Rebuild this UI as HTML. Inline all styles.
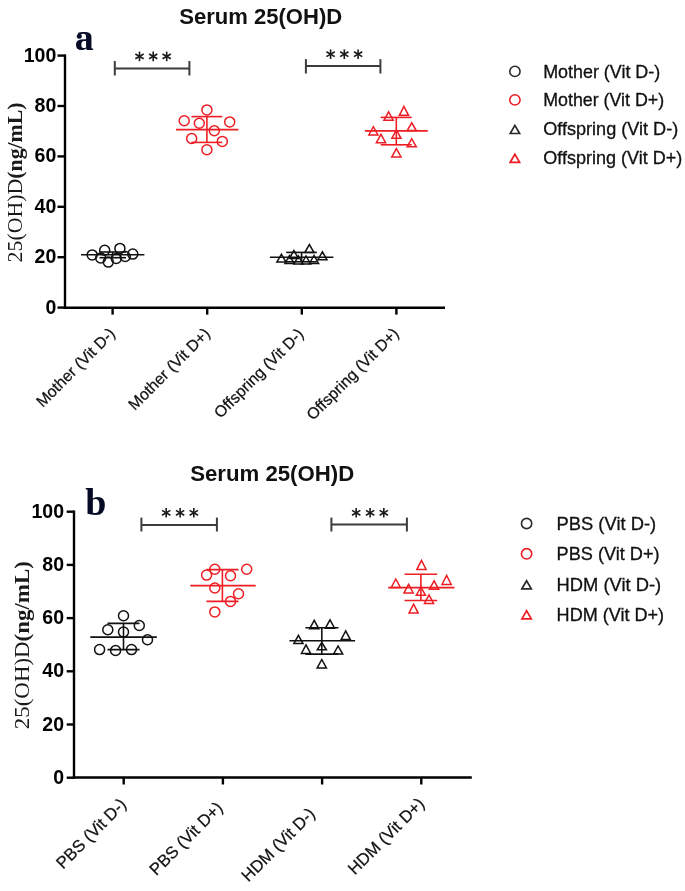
<!DOCTYPE html>
<html><head><meta charset="utf-8"><title>Serum 25(OH)D</title>
<style>
html,body{margin:0;padding:0;background:#fff;}
body{width:685px;height:891px;overflow:hidden;font-family:"Liberation Sans", sans-serif;}
svg{display:block;will-change:transform;}
</style></head>
<body>
<svg width="685" height="891" viewBox="0 0 685 891">
<rect width="685" height="891" fill="#fff"/>
<g stroke="#000" stroke-width="2.4" fill="none"><line x1="65" y1="54.40000000000002" x2="65" y2="308.9"/><line x1="63.8" y1="307.7" x2="445" y2="307.7"/><line x1="57.5" y1="307.6" x2="65" y2="307.6"/><line x1="57.5" y1="257.20000000000005" x2="65" y2="257.20000000000005"/><line x1="57.5" y1="206.8" x2="65" y2="206.8"/><line x1="57.5" y1="156.40000000000003" x2="65" y2="156.40000000000003"/><line x1="57.5" y1="106.00000000000003" x2="65" y2="106.00000000000003"/><line x1="57.5" y1="55.60000000000002" x2="65" y2="55.60000000000002"/><line x1="112.6" y1="307.7" x2="112.6" y2="314.6"/><line x1="207.2" y1="307.7" x2="207.2" y2="314.6"/><line x1="301.8" y1="307.7" x2="301.8" y2="314.6"/><line x1="396.4" y1="307.7" x2="396.4" y2="314.6"/></g><text x="56.3" y="313.6" text-anchor="end" font-family='"Liberation Sans", sans-serif' font-weight="bold" font-size="19.5">0</text><text x="56.3" y="263.2" text-anchor="end" font-family='"Liberation Sans", sans-serif' font-weight="bold" font-size="19.5">20</text><text x="56.3" y="212.8" text-anchor="end" font-family='"Liberation Sans", sans-serif' font-weight="bold" font-size="19.5">40</text><text x="56.3" y="162.4" text-anchor="end" font-family='"Liberation Sans", sans-serif' font-weight="bold" font-size="19.5">60</text><text x="56.3" y="112.0" text-anchor="end" font-family='"Liberation Sans", sans-serif' font-weight="bold" font-size="19.5">80</text><text x="56.3" y="61.6" text-anchor="end" font-family='"Liberation Sans", sans-serif' font-weight="bold" font-size="19.5">100</text>
<text transform="translate(22,182.4) rotate(-90)" text-anchor="middle" font-family='"Liberation Serif", serif' font-size="20" fill="#1a1a1a" textLength="160" lengthAdjust="spacingAndGlyphs">25(OH)D<tspan font-weight="bold">(ng/mL)</tspan></text>
<text x="179.2" y="24.0" font-family='"Liberation Sans", sans-serif' font-weight="bold" font-size="22" textLength="163" lengthAdjust="spacingAndGlyphs" fill="#111">Serum 25(OH)D</text>
<text x="74.7" y="49.8" font-family='"Liberation Serif", serif' font-weight="bold" font-size="38" fill="#050a25">a</text>
<circle cx="79.3" cy="36.3" r="2.5" fill="#050a25"/>
<g stroke="#3c3c3c" stroke-width="2" fill="none"><line x1="114.8" y1="68.4" x2="189.4" y2="68.4"/><line x1="114.8" y1="61" x2="114.8" y2="75.5"/><line x1="189.4" y1="61" x2="189.4" y2="75.5"/></g><g stroke="#1a1a1a" stroke-width="1.6" stroke-linecap="butt"><line x1="139.50" y1="51.60" x2="139.50" y2="61.20"/><line x1="135.34" y1="54.00" x2="143.66" y2="58.80"/><line x1="143.66" y1="54.00" x2="135.34" y2="58.80"/></g><g stroke="#1a1a1a" stroke-width="1.6" stroke-linecap="butt"><line x1="153.20" y1="51.60" x2="153.20" y2="61.20"/><line x1="149.04" y1="54.00" x2="157.36" y2="58.80"/><line x1="157.36" y1="54.00" x2="149.04" y2="58.80"/></g><g stroke="#1a1a1a" stroke-width="1.6" stroke-linecap="butt"><line x1="166.70" y1="51.60" x2="166.70" y2="61.20"/><line x1="162.54" y1="54.00" x2="170.86" y2="58.80"/><line x1="170.86" y1="54.00" x2="162.54" y2="58.80"/></g>
<g stroke="#3c3c3c" stroke-width="2" fill="none"><line x1="305.9" y1="66" x2="380.4" y2="66"/><line x1="305.9" y1="59.1" x2="305.9" y2="73.5"/><line x1="380.4" y1="59.1" x2="380.4" y2="73.5"/></g><g stroke="#1a1a1a" stroke-width="1.6" stroke-linecap="butt"><line x1="330.60" y1="49.40" x2="330.60" y2="59.00"/><line x1="326.44" y1="51.80" x2="334.76" y2="56.60"/><line x1="334.76" y1="51.80" x2="326.44" y2="56.60"/></g><g stroke="#1a1a1a" stroke-width="1.6" stroke-linecap="butt"><line x1="344.30" y1="49.40" x2="344.30" y2="59.00"/><line x1="340.14" y1="51.80" x2="348.46" y2="56.60"/><line x1="348.46" y1="51.80" x2="340.14" y2="56.60"/></g><g stroke="#1a1a1a" stroke-width="1.6" stroke-linecap="butt"><line x1="358.10" y1="49.40" x2="358.10" y2="59.00"/><line x1="353.94" y1="51.80" x2="362.26" y2="56.60"/><line x1="362.26" y1="51.80" x2="353.94" y2="56.60"/></g>
<circle cx="92.2" cy="254.9" r="5.0" fill="none" stroke="#111" stroke-width="1.5"/>
<circle cx="104.7" cy="250.2" r="5.0" fill="none" stroke="#111" stroke-width="1.5"/>
<circle cx="119.9" cy="248.4" r="5.0" fill="none" stroke="#111" stroke-width="1.5"/>
<circle cx="132.8" cy="254.1" r="5.0" fill="none" stroke="#111" stroke-width="1.5"/>
<circle cx="100.7" cy="257.9" r="5.0" fill="none" stroke="#111" stroke-width="1.5"/>
<circle cx="108.3" cy="262.1" r="5.0" fill="none" stroke="#111" stroke-width="1.5"/>
<circle cx="116.3" cy="258.5" r="5.0" fill="none" stroke="#111" stroke-width="1.5"/>
<circle cx="125.2" cy="256.5" r="5.0" fill="none" stroke="#111" stroke-width="1.5"/>
<g stroke="#111" stroke-width="1.6" fill="none"><line x1="81" y1="254.8" x2="144.4" y2="254.8"/><line x1="112.6" y1="252.0" x2="112.6" y2="257.7"/><line x1="99.5" y1="252.0" x2="126" y2="252.0"/><line x1="99.5" y1="257.7" x2="126" y2="257.7"/></g>
<circle cx="206.9" cy="109.9" r="5.0" fill="none" stroke="#ee1d23" stroke-width="1.5"/>
<circle cx="184.2" cy="120.8" r="5.0" fill="none" stroke="#ee1d23" stroke-width="1.5"/>
<circle cx="199.3" cy="123.2" r="5.0" fill="none" stroke="#ee1d23" stroke-width="1.5"/>
<circle cx="229.7" cy="121.9" r="5.0" fill="none" stroke="#ee1d23" stroke-width="1.5"/>
<circle cx="214.3" cy="130.7" r="5.0" fill="none" stroke="#ee1d23" stroke-width="1.5"/>
<circle cx="191.7" cy="138.5" r="5.0" fill="none" stroke="#ee1d23" stroke-width="1.5"/>
<circle cx="222.3" cy="141.4" r="5.0" fill="none" stroke="#ee1d23" stroke-width="1.5"/>
<circle cx="206.9" cy="149.8" r="5.0" fill="none" stroke="#ee1d23" stroke-width="1.5"/>
<g stroke="#ee1d23" stroke-width="1.6" fill="none"><line x1="176" y1="129.6" x2="238.4" y2="129.6"/><line x1="206.9" y1="116.6" x2="206.9" y2="142.4"/><line x1="191.4" y1="116.6" x2="222.3" y2="116.6"/><line x1="191.4" y1="142.4" x2="222.3" y2="142.4"/></g>
<path d="M276.8 262.1 L281.4 254.3 L286.0 262.1 Z" fill="none" stroke="#111" stroke-width="1.5" stroke-linejoin="miter"/>
<path d="M289.3 258.5 L293.9 250.6 L298.5 258.5 Z" fill="none" stroke="#111" stroke-width="1.5" stroke-linejoin="miter"/>
<path d="M304.8 252.5 L309.4 244.6 L314.0 252.5 Z" fill="none" stroke="#111" stroke-width="1.5" stroke-linejoin="miter"/>
<path d="M317.8 259.8 L322.4 251.8 L327.0 259.8 Z" fill="none" stroke="#111" stroke-width="1.5" stroke-linejoin="miter"/>
<path d="M284.9 263.5 L289.5 255.5 L294.1 263.5 Z" fill="none" stroke="#111" stroke-width="1.5" stroke-linejoin="miter"/>
<path d="M293.9 264.0 L298.5 256.0 L303.1 264.0 Z" fill="none" stroke="#111" stroke-width="1.5" stroke-linejoin="miter"/>
<path d="M301.4 264.0 L306.0 256.0 L310.6 264.0 Z" fill="none" stroke="#111" stroke-width="1.5" stroke-linejoin="miter"/>
<path d="M309.4 263.5 L314.0 255.5 L318.6 263.5 Z" fill="none" stroke="#111" stroke-width="1.5" stroke-linejoin="miter"/>
<g stroke="#111" stroke-width="1.6" fill="none"><line x1="269.9" y1="257.2" x2="333.4" y2="257.2"/><line x1="301.6" y1="252.4" x2="301.6" y2="261.8"/><line x1="286.2" y1="252.4" x2="316.8" y2="252.4"/><line x1="286.2" y1="261.8" x2="316.8" y2="261.8"/></g>
<path d="M384.0 120.2 L388.6 111.9 L393.2 120.2 Z" fill="none" stroke="#ee1d23" stroke-width="1.5" stroke-linejoin="miter"/>
<path d="M399.3 115.3 L403.9 106.4 L408.5 115.3 Z" fill="none" stroke="#ee1d23" stroke-width="1.5" stroke-linejoin="miter"/>
<path d="M368.8 135.0 L373.4 126.7 L378.0 135.0 Z" fill="none" stroke="#ee1d23" stroke-width="1.5" stroke-linejoin="miter"/>
<path d="M407.1 130.6 L411.7 122.8 L416.3 130.6 Z" fill="none" stroke="#ee1d23" stroke-width="1.5" stroke-linejoin="miter"/>
<path d="M391.8 138.3 L396.4 130.0 L401.0 138.3 Z" fill="none" stroke="#ee1d23" stroke-width="1.5" stroke-linejoin="miter"/>
<path d="M376.4 142.7 L381.0 134.3 L385.6 142.7 Z" fill="none" stroke="#ee1d23" stroke-width="1.5" stroke-linejoin="miter"/>
<path d="M407.1 146.8 L411.7 138.7 L416.3 146.8 Z" fill="none" stroke="#ee1d23" stroke-width="1.5" stroke-linejoin="miter"/>
<path d="M391.8 156.9 L396.4 148.6 L401.0 156.9 Z" fill="none" stroke="#ee1d23" stroke-width="1.5" stroke-linejoin="miter"/>
<g stroke="#ee1d23" stroke-width="1.6" fill="none"><line x1="364.9" y1="130.9" x2="427.8" y2="130.9"/><line x1="396.3" y1="117.4" x2="396.3" y2="144.8"/><line x1="380.7" y1="117.4" x2="411.7" y2="117.4"/><line x1="380.7" y1="144.8" x2="411.7" y2="144.8"/></g>
<text transform="translate(116.1,334.6) rotate(-45)" text-anchor="end" font-family='"Liberation Sans", sans-serif' font-size="15.9" fill="#111" stroke="#111" stroke-width="0.25">Mother (Vit D-)</text>
<text transform="translate(211.1,334.6) rotate(-45)" text-anchor="end" font-family='"Liberation Sans", sans-serif' font-size="15.9" fill="#111" stroke="#111" stroke-width="0.25">Mother (Vit D+)</text>
<text transform="translate(304.5,335.1) rotate(-45)" text-anchor="end" font-family='"Liberation Sans", sans-serif' font-size="15.9" fill="#111" stroke="#111" stroke-width="0.25">Offspring (Vit D-)</text>
<text transform="translate(399.8,334.4) rotate(-45)" text-anchor="end" font-family='"Liberation Sans", sans-serif' font-size="15.9" fill="#111" stroke="#111" stroke-width="0.25">Offspring (Vit D+)</text>
<circle cx="514.9" cy="71.4" r="5.15" fill="none" stroke="#2a2a2a" stroke-width="1.6"/><text x="543.2" y="77.6" font-family='"Liberation Sans", sans-serif' font-size="17.6" fill="#111" stroke="#111" stroke-width="0.3" textLength="117" lengthAdjust="spacingAndGlyphs">Mother (Vit D-)</text><circle cx="514.9" cy="99.9" r="5.15" fill="none" stroke="#ee1d23" stroke-width="1.6"/><text x="543.2" y="106.1" font-family='"Liberation Sans", sans-serif' font-size="17.6" fill="#111" stroke="#111" stroke-width="0.3" textLength="121" lengthAdjust="spacingAndGlyphs">Mother (Vit D+)</text><path d="M510.2 133.5 L514.9 125.4 L519.6 133.5 Z" fill="none" stroke="#2a2a2a" stroke-width="1.7" stroke-linejoin="miter"/><text x="543.2" y="135.4" font-family='"Liberation Sans", sans-serif' font-size="17.6" fill="#111" stroke="#111" stroke-width="0.3" textLength="135" lengthAdjust="spacingAndGlyphs">Offspring (Vit D-)</text><path d="M510.2 162.3 L514.9 154.2 L519.6 162.3 Z" fill="none" stroke="#ee1d23" stroke-width="1.7" stroke-linejoin="miter"/><text x="543.2" y="164.2" font-family='"Liberation Sans", sans-serif' font-size="17.6" fill="#111" stroke="#111" stroke-width="0.3" textLength="139" lengthAdjust="spacingAndGlyphs">Offspring (Vit D+)</text>
<g stroke="#000" stroke-width="2.4" fill="none"><line x1="74" y1="510.50000000000006" x2="74" y2="778.7"/><line x1="72.8" y1="777.5" x2="471.8" y2="777.5"/><line x1="66.7" y1="777.7" x2="74" y2="777.7"/><line x1="66.7" y1="724.5" x2="74" y2="724.5"/><line x1="66.7" y1="671.3000000000001" x2="74" y2="671.3000000000001"/><line x1="66.7" y1="618.1" x2="74" y2="618.1"/><line x1="66.7" y1="564.9000000000001" x2="74" y2="564.9000000000001"/><line x1="66.7" y1="511.70000000000005" x2="74" y2="511.70000000000005"/><line x1="123.7" y1="777.5" x2="123.7" y2="784.5"/><line x1="222.9" y1="777.5" x2="222.9" y2="784.5"/><line x1="322.1" y1="777.5" x2="322.1" y2="784.5"/><line x1="421.3" y1="777.5" x2="421.3" y2="784.5"/></g><text x="64.0" y="783.7" text-anchor="end" font-family='"Liberation Sans", sans-serif' font-weight="bold" font-size="19.5">0</text><text x="64.0" y="730.5" text-anchor="end" font-family='"Liberation Sans", sans-serif' font-weight="bold" font-size="19.5">20</text><text x="64.0" y="677.3" text-anchor="end" font-family='"Liberation Sans", sans-serif' font-weight="bold" font-size="19.5">40</text><text x="64.0" y="624.1" text-anchor="end" font-family='"Liberation Sans", sans-serif' font-weight="bold" font-size="19.5">60</text><text x="64.0" y="570.9" text-anchor="end" font-family='"Liberation Sans", sans-serif' font-weight="bold" font-size="19.5">80</text><text x="64.0" y="517.7" text-anchor="end" font-family='"Liberation Sans", sans-serif' font-weight="bold" font-size="19.5">100</text>
<text transform="translate(29.3,645.2) rotate(-90)" text-anchor="middle" font-family='"Liberation Serif", serif' font-size="22" fill="#1a1a1a" textLength="168" lengthAdjust="spacingAndGlyphs">25(OH)D<tspan font-weight="bold">(ng/mL)</tspan></text>
<text x="190.2" y="480.5" font-family='"Liberation Sans", sans-serif' font-weight="bold" font-size="22" textLength="164" lengthAdjust="spacingAndGlyphs" fill="#111">Serum 25(OH)D</text>
<text x="85.3" y="515.0" font-family='"Liberation Serif", serif' font-weight="bold" font-size="38" fill="#050a25">b</text>
<g stroke="#3c3c3c" stroke-width="2" fill="none"><line x1="141.4" y1="524.9" x2="216.9" y2="524.9"/><line x1="141.4" y1="517.6" x2="141.4" y2="531.5"/><line x1="216.9" y1="517.6" x2="216.9" y2="531.5"/></g><g stroke="#1a1a1a" stroke-width="1.6" stroke-linecap="butt"><line x1="166.20" y1="508.00" x2="166.20" y2="517.60"/><line x1="162.04" y1="510.40" x2="170.36" y2="515.20"/><line x1="170.36" y1="510.40" x2="162.04" y2="515.20"/></g><g stroke="#1a1a1a" stroke-width="1.6" stroke-linecap="butt"><line x1="180.10" y1="508.00" x2="180.10" y2="517.60"/><line x1="175.94" y1="510.40" x2="184.26" y2="515.20"/><line x1="184.26" y1="510.40" x2="175.94" y2="515.20"/></g><g stroke="#1a1a1a" stroke-width="1.6" stroke-linecap="butt"><line x1="193.80" y1="508.00" x2="193.80" y2="517.60"/><line x1="189.64" y1="510.40" x2="197.96" y2="515.20"/><line x1="197.96" y1="510.40" x2="189.64" y2="515.20"/></g>
<g stroke="#3c3c3c" stroke-width="2" fill="none"><line x1="331.4" y1="524.6" x2="406.9" y2="524.6"/><line x1="331.4" y1="517.6" x2="331.4" y2="531.5"/><line x1="406.9" y1="517.6" x2="406.9" y2="531.5"/></g><g stroke="#1a1a1a" stroke-width="1.6" stroke-linecap="butt"><line x1="356.20" y1="508.00" x2="356.20" y2="517.60"/><line x1="352.04" y1="510.40" x2="360.36" y2="515.20"/><line x1="360.36" y1="510.40" x2="352.04" y2="515.20"/></g><g stroke="#1a1a1a" stroke-width="1.6" stroke-linecap="butt"><line x1="370.10" y1="508.00" x2="370.10" y2="517.60"/><line x1="365.94" y1="510.40" x2="374.26" y2="515.20"/><line x1="374.26" y1="510.40" x2="365.94" y2="515.20"/></g><g stroke="#1a1a1a" stroke-width="1.6" stroke-linecap="butt"><line x1="383.80" y1="508.00" x2="383.80" y2="517.60"/><line x1="379.64" y1="510.40" x2="387.96" y2="515.20"/><line x1="387.96" y1="510.40" x2="379.64" y2="515.20"/></g>
<circle cx="123.5" cy="615.8" r="5.0" fill="none" stroke="#111" stroke-width="1.5"/>
<circle cx="107.8" cy="629.8" r="5.0" fill="none" stroke="#111" stroke-width="1.5"/>
<circle cx="123.5" cy="632.1" r="5.0" fill="none" stroke="#111" stroke-width="1.5"/>
<circle cx="139.3" cy="625.5" r="5.0" fill="none" stroke="#111" stroke-width="1.5"/>
<circle cx="147.5" cy="639.7" r="5.0" fill="none" stroke="#111" stroke-width="1.5"/>
<circle cx="99.6" cy="649.6" r="5.0" fill="none" stroke="#111" stroke-width="1.5"/>
<circle cx="115.6" cy="650.5" r="5.0" fill="none" stroke="#111" stroke-width="1.5"/>
<circle cx="131.5" cy="649.6" r="5.0" fill="none" stroke="#111" stroke-width="1.5"/>
<g stroke="#111" stroke-width="1.6" fill="none"><line x1="90.3" y1="637.1" x2="156.8" y2="637.1"/><line x1="123.5" y1="623.4" x2="123.5" y2="649.6"/><line x1="107.5" y1="623.4" x2="139.5" y2="623.4"/><line x1="107.5" y1="649.6" x2="139.5" y2="649.6"/></g>
<circle cx="214.8" cy="569.3" r="5.0" fill="none" stroke="#ee1d23" stroke-width="1.5"/>
<circle cx="206.6" cy="575.1" r="5.0" fill="none" stroke="#ee1d23" stroke-width="1.5"/>
<circle cx="230.5" cy="575.7" r="5.0" fill="none" stroke="#ee1d23" stroke-width="1.5"/>
<circle cx="246.7" cy="569.3" r="5.0" fill="none" stroke="#ee1d23" stroke-width="1.5"/>
<circle cx="214.8" cy="588" r="5.0" fill="none" stroke="#ee1d23" stroke-width="1.5"/>
<circle cx="238.5" cy="593.8" r="5.0" fill="none" stroke="#ee1d23" stroke-width="1.5"/>
<circle cx="230.5" cy="601.4" r="5.0" fill="none" stroke="#ee1d23" stroke-width="1.5"/>
<circle cx="214.8" cy="611.9" r="5.0" fill="none" stroke="#ee1d23" stroke-width="1.5"/>
<g stroke="#ee1d23" stroke-width="1.6" fill="none"><line x1="190.3" y1="585.6" x2="255.7" y2="585.6"/><line x1="222.4" y1="569.6" x2="222.4" y2="601.4"/><line x1="206.5" y1="569.6" x2="238.5" y2="569.6"/><line x1="206.5" y1="601.4" x2="238.5" y2="601.4"/></g>
<path d="M309.6 628.8 L314.2 620.3 L318.8 628.8 Z" fill="none" stroke="#111" stroke-width="1.5" stroke-linejoin="miter"/>
<path d="M325.4 628.2 L330.0 619.8 L334.6 628.2 Z" fill="none" stroke="#111" stroke-width="1.5" stroke-linejoin="miter"/>
<path d="M293.8 643.6 L298.4 635.3 L303.0 643.6 Z" fill="none" stroke="#111" stroke-width="1.5" stroke-linejoin="miter"/>
<path d="M341.1 639.6 L345.7 630.9 L350.3 639.6 Z" fill="none" stroke="#111" stroke-width="1.5" stroke-linejoin="miter"/>
<path d="M301.4 653.5 L306.0 644.9 L310.6 653.5 Z" fill="none" stroke="#111" stroke-width="1.5" stroke-linejoin="miter"/>
<path d="M317.2 649.8 L321.8 642.5 L326.4 649.8 Z" fill="none" stroke="#111" stroke-width="1.5" stroke-linejoin="miter"/>
<path d="M333.5 654.1 L338.1 646.0 L342.7 654.1 Z" fill="none" stroke="#111" stroke-width="1.5" stroke-linejoin="miter"/>
<path d="M317.2 667.9 L321.8 659.5 L326.4 667.9 Z" fill="none" stroke="#111" stroke-width="1.5" stroke-linejoin="miter"/>
<g stroke="#111" stroke-width="1.6" fill="none"><line x1="289.4" y1="640.7" x2="355.1" y2="640.7"/><line x1="321.8" y1="627.8" x2="321.8" y2="654.1"/><line x1="305.4" y1="627.8" x2="338.5" y2="627.8"/><line x1="305.4" y1="654.1" x2="338.5" y2="654.1"/></g>
<path d="M416.9 569.4 L421.5 560.3 L426.1 569.4 Z" fill="none" stroke="#ee1d23" stroke-width="1.5" stroke-linejoin="miter"/>
<path d="M391.2 587.5 L395.8 579.0 L400.4 587.5 Z" fill="none" stroke="#ee1d23" stroke-width="1.5" stroke-linejoin="miter"/>
<path d="M442.0 584.5 L446.6 575.5 L451.2 584.5 Z" fill="none" stroke="#ee1d23" stroke-width="1.5" stroke-linejoin="miter"/>
<path d="M404.0 592.9 L408.6 584.3 L413.2 592.9 Z" fill="none" stroke="#ee1d23" stroke-width="1.5" stroke-linejoin="miter"/>
<path d="M429.5 589.2 L434.1 580.8 L438.7 589.2 Z" fill="none" stroke="#ee1d23" stroke-width="1.5" stroke-linejoin="miter"/>
<path d="M416.3 595.3 L420.9 587.0 L425.5 595.3 Z" fill="none" stroke="#ee1d23" stroke-width="1.5" stroke-linejoin="miter"/>
<path d="M424.4 603.5 L429.0 594.8 L433.6 603.5 Z" fill="none" stroke="#ee1d23" stroke-width="1.5" stroke-linejoin="miter"/>
<path d="M409.0 613.1 L413.6 604.1 L418.2 613.1 Z" fill="none" stroke="#ee1d23" stroke-width="1.5" stroke-linejoin="miter"/>
<g stroke="#ee1d23" stroke-width="1.6" fill="none"><line x1="388.2" y1="587.6" x2="454.4" y2="587.6"/><line x1="420.9" y1="574.3" x2="420.9" y2="600.5"/><line x1="404.5" y1="574.3" x2="437.2" y2="574.3"/><line x1="404.5" y1="600.5" x2="437.2" y2="600.5"/></g>
<text transform="translate(127.3,805.4) rotate(-45)" text-anchor="end" font-family='"Liberation Sans", sans-serif' font-size="16.8" fill="#111" stroke="#111" stroke-width="0.25">PBS (Vit D-)</text>
<text transform="translate(223.6,808.9) rotate(-45)" text-anchor="end" font-family='"Liberation Sans", sans-serif' font-size="16.8" fill="#111" stroke="#111" stroke-width="0.25">PBS (Vit D+)</text>
<text transform="translate(316.0,814.9) rotate(-45)" text-anchor="end" font-family='"Liberation Sans", sans-serif' font-size="16.8" fill="#111" stroke="#111" stroke-width="0.25">HDM (Vit D-)</text>
<text transform="translate(425.4,804.9) rotate(-45)" text-anchor="end" font-family='"Liberation Sans", sans-serif' font-size="16.8" fill="#111" stroke="#111" stroke-width="0.25">HDM (Vit D+)</text>
<circle cx="526.6" cy="523.5" r="5.15" fill="none" stroke="#2a2a2a" stroke-width="1.6"/><text x="556.6" y="529.8" font-family='"Liberation Sans", sans-serif' font-size="18" fill="#111" stroke="#111" stroke-width="0.3" textLength="99.5" lengthAdjust="spacingAndGlyphs">PBS (Vit D-)</text><circle cx="526.6" cy="553.8" r="5.15" fill="none" stroke="#ee1d23" stroke-width="1.6"/><text x="556.6" y="560.1" font-family='"Liberation Sans", sans-serif' font-size="18" fill="#111" stroke="#111" stroke-width="0.3" textLength="103" lengthAdjust="spacingAndGlyphs">PBS (Vit D+)</text><path d="M521.9 588.8 L526.6 580.7 L531.3 588.8 Z" fill="none" stroke="#2a2a2a" stroke-width="1.7" stroke-linejoin="miter"/><text x="556.6" y="590.8" font-family='"Liberation Sans", sans-serif' font-size="18" fill="#111" stroke="#111" stroke-width="0.3" textLength="104.5" lengthAdjust="spacingAndGlyphs">HDM (Vit D-)</text><path d="M521.9 618.9 L526.6 610.8 L531.3 618.9 Z" fill="none" stroke="#ee1d23" stroke-width="1.7" stroke-linejoin="miter"/><text x="556.6" y="620.9" font-family='"Liberation Sans", sans-serif' font-size="18" fill="#111" stroke="#111" stroke-width="0.3" textLength="107.5" lengthAdjust="spacingAndGlyphs">HDM (Vit D+)</text>
</svg>
</body></html>
